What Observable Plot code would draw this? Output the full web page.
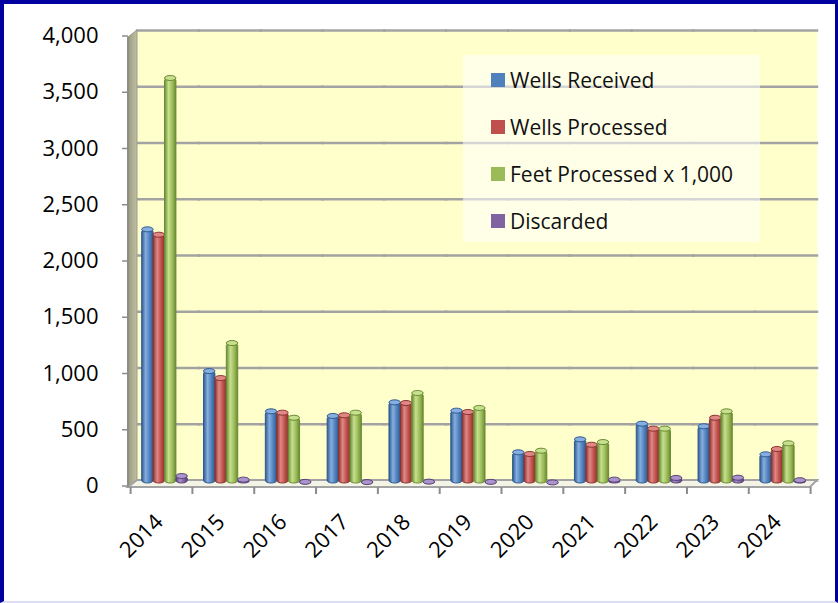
<!DOCTYPE html>
<html>
<head>
<meta charset="utf-8">
<script src="https://cdn.jsdelivr.net/npm/d3@7"></script>
<script src="https://cdn.jsdelivr.net/npm/@observablehq/plot@0.6"></script>
<style>
  html, body { margin: 0; padding: 0; background: #fff; }
  #page { position: relative; width: 838px; height: 603px; overflow: hidden; background: #fff; }
  #border { position: absolute; left: 0; top: 0; width: 838px; height: 603px; box-sizing: border-box;
    border-left: 4px solid #0000a0; border-top: 4px solid #0000a0; border-right: 3px solid #0000a0;
    border-bottom: 2px solid #dcdcf4; }
  #chart { position: absolute; left: 0; top: 0; }
  #legend { position: absolute; left: 463px; top: 55px; width: 297px; height: 187px;
    background: rgba(255,255,255,0.55); font-family: "Open Sans", sans-serif; font-size: 21px; color: #111; }
  .item { position: absolute; left: 28px; height: 24px; display: flex; align-items: center; }
  .sw { width: 14px; height: 14px; margin-right: 5px; }
</style>
</head>
<body>
<div id="page">
  <div id="border"></div>
  <div id="chart"></div>
  <div id="legend"></div>
</div>
<script>
// ---- data ----
const years = ["2014","2015","2016","2017","2018","2019","2020","2021","2022","2023","2024"];
const seriesNames = ["Wells Received","Wells Processed","Feet Processed x 1,000","Discarded"];
const wellsReceived  = [2255, 995, 637, 596, 717, 643, 273, 388, 527, 504, 255];
const wellsProcessed = [2207, 933, 625, 602, 711, 631, 258, 340, 483, 580, 302];
const feetProcessed  = [3600, 1244, 580, 625, 800, 667, 287, 364, 483, 637, 353];
const discarded      = [62, 30, 10, 8, 12, 10, 5, 30, 45, 47, 25];
const yTicks = [0, 500, 1000, 1500, 2000, 2500, 3000, 3500, 4000];

const seriesValues = [wellsReceived, wellsProcessed, feetProcessed, discarded];
const palette = [
  {base: "#4f81bd", dark: "#2f5a8f", light: "#86aee0"},
  {base: "#c0504d", dark: "#8a3230", light: "#e08884"},
  {base: "#9bbb59", dark: "#6a8a33", light: "#c6e08e"},
  {base: "#8064a2", dark: "#553f75", light: "#ab93cc"}
];

const rows = [];
seriesNames.forEach((s, i) => years.forEach((y, j) => rows.push({year: y, series: s, value: seriesValues[i][j], idx: i})));

const barMarks = [];
seriesNames.forEach((s, i) => {
  const d = rows.filter(r => r.idx === i);
  barMarks.push(Plot.barY(d, {fx: "year", x: "series", y: "value", fill: `url(#grad${i})`,
    stroke: palette[i].dark, strokeWidth: 1, rx: 5.7, ry: 2.5, dy: 3}));
  barMarks.push(Plot.barY(d, {fx: "year", x: "series", y1: "value", y2: "value", insetTop: -2.5, insetBottom: -2.5,
    fill: palette[i].light, stroke: palette[i].dark, strokeWidth: 1, rx: 5.7, ry: 2.5, dy: 3}));
});

const chart = Plot.plot({
  width: 838, height: 603,
  marginTop: 30, marginBottom: 123, marginLeft: 137, marginRight: 21,
  style: {background: "transparent", fontFamily: "'Open Sans', sans-serif", color: "#000"},
  fx: {domain: years, padding: 0, round: false, label: null, axis: null},
  x: {domain: seriesNames, paddingInner: 0, paddingOuter: 0.71, align: 0.29, round: false, axis: null},
  y: {domain: [0, 4000], label: null, axis: null},
  marks: [
    Plot.frame({fill: "#ffffcc", facet: "super"}),
    Plot.gridY(yTicks, {stroke: "#a3a3a3", strokeWidth: 2.5, strokeOpacity: 1, strokeLinecap: "square"}),
    Plot.axisY(yTicks, {tickFormat: d3.format(","), tickSize: 6, tickPadding: 24, dx: -9, dy: 5.5,
      fontSize: 22, stroke: "#8c8c8c", strokeWidth: 1.5, fill: "#000", label: null}),
    Plot.axisFx({anchor: "bottom", tickSize: 0, tickRotate: -45, fontSize: 22, dx: -9, dy: 26, fill: "#000", label: null}),
    ...barMarks
  ]
});

document.getElementById("chart").appendChild(chart);

// gradients for cylinder shading
const svg = d3.select(chart.tagName.toLowerCase() === "svg" ? chart : chart.querySelector("svg"));
const defs = svg.insert("defs", ":first-child");
palette.forEach((p, i) => {
  const g = defs.append("linearGradient").attr("id", `grad${i}`).attr("x1", 0).attr("x2", 1).attr("y1", 0).attr("y2", 0);
  g.append("stop").attr("offset", "0%").attr("stop-color", p.dark);
  g.append("stop").attr("offset", "35%").attr("stop-color", p.light);
  g.append("stop").attr("offset", "70%").attr("stop-color", p.base);
  g.append("stop").attr("offset", "100%").attr("stop-color", p.dark);
});
const wall = defs.append("linearGradient").attr("id", "wallGrad").attr("x1", 0).attr("x2", 1);
wall.append("stop").attr("offset", "0%").attr("stop-color", "#9d9b7e");
wall.append("stop").attr("offset", "100%").attr("stop-color", "#c2c0a2");

// 3D decoration (left wall, floor, front axis) built from the plot's scales
const fx = chart.scale("fx"), y = chart.scale("y");
const bw = fx.bandwidth;
const fxs = years.map(v => fx.apply(v));
const xL = fxs[0], xR = fxs[fxs.length - 1] + bw;
const y0 = y.apply(0), yTop = y.apply(4000);
const off = 9, down = 7;
const deco = svg.insert("g", 'g[aria-label="bar"]');
deco.append("polygon")
  .attr("points", [[xL - off, yTop + down], [xL, yTop], [xL, y0], [xL - off, y0 + down]].map(p => p.join(",")).join(" "))
  .attr("fill", "url(#wallGrad)").attr("stroke", "#9a9a8a").attr("stroke-width", 1);
deco.append("polygon")
  .attr("points", [[xL - off, y0 + down], [xL, y0], [xR, y0], [xR - off + 2, y0 + down]].map(p => p.join(",")).join(" "))
  .attr("fill", "#f3f3e6").attr("stroke", "#a3a3a3").attr("stroke-width", 2);
deco.append("line").attr("x1", xL - off).attr("x2", xL - off).attr("y1", yTop + down).attr("y2", y0 + down)
  .attr("stroke", "#8c8c8c").attr("stroke-width", 2);
[...fxs, xR].forEach(x => {
  deco.append("line").attr("x1", x - 6.4).attr("x2", x - 6.4).attr("y1", y0 + down).attr("y2", y0 + down + 7)
    .attr("stroke", "#8c8c8c").attr("stroke-width", 2);
});

// legend
const legend = document.getElementById("legend");
const rowTops = [13, 60, 107, 154];
seriesNames.forEach((s, i) => {
  const it = document.createElement("div");
  it.className = "item";
  it.style.top = rowTops[i] + "px";
  it.innerHTML = `<span class="sw" style="background:${palette[i].base}"></span><span>${s}</span>`;
  legend.appendChild(it);
});
</script>
</body>
</html>
